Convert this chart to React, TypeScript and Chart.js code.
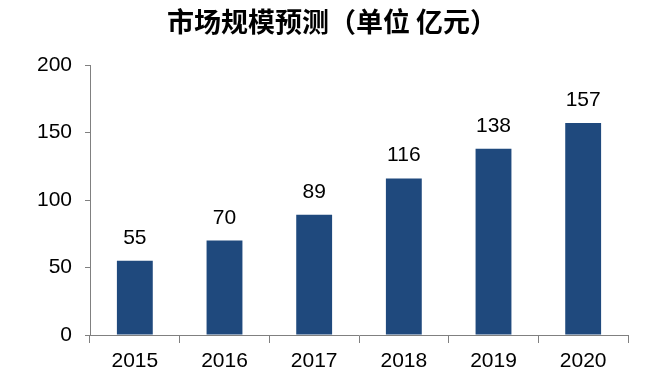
import React, { useEffect, useRef } from "react";
import { Chart, registerables } from "chart.js";

Chart.register(...registerables);

const TITLE = "市场规模预测（单位 亿元）";
const CATEGORIES = ["2015", "2016", "2017", "2018", "2019", "2020"];
const VALUES = [55, 70, 89, 116, 138, 157];
const Y_MIN = 0;
const Y_MAX = 200;
const Y_STEP = 50;

const BAR_COLOR = "#1F497D";
const AXIS_COLOR = "#808080";
const FONT = '"Liberation Sans", Arial, sans-serif';

const titlePlugin = {
  id: "customTitle",
  afterDraw(chart: any) {
    const ctx = chart.ctx;
    ctx.save();
    ctx.font = 'bold 27px "Noto Sans CJK SC", sans-serif';
    ctx.fillStyle = "#000000";
    ctx.textAlign = "center";
    ctx.textBaseline = "middle";
    ctx.fillText(TITLE, 332, 22);
    ctx.restore();
  },
};

const labelPlugin = {
  id: "barLabels",
  afterDatasetsDraw(chart: any) {
    const ctx = chart.ctx;
    ctx.save();
    ctx.font = `21px ${FONT}`;
    ctx.fillStyle = "#000000";
    ctx.textAlign = "center";
    ctx.textBaseline = "alphabetic";
    chart.data.datasets.forEach((ds: any, i: number) => {
      const meta = chart.getDatasetMeta(i);
      meta.data.forEach((bar: any, j: number) => {
        ctx.fillText(String(ds.data[j]), bar.x, bar.y - 17);
      });
    });
    ctx.restore();
  },
};

export default function App() {
  const ref = useRef<HTMLCanvasElement | null>(null);
  useEffect(() => {
    if (!ref.current) return;
    const chart = new Chart(ref.current, {
      type: "bar",
      data: {
        labels: CATEGORIES,
        datasets: [
          {
            data: VALUES,
            backgroundColor: BAR_COLOR,
            borderWidth: 0,
            barPercentage: 0.4,
            categoryPercentage: 1,
          },
        ],
      },
      options: {
        responsive: false,
        animation: false,
        layout: { padding: { top: 65, right: 21, left: 0, bottom: 0 } },
        plugins: {
          legend: { display: false },
          title: { display: false },
          tooltip: { enabled: false },
        },
        scales: {
          x: {
            offset: true,
            grid: {
              offset: true,
              drawOnChartArea: false,
              drawTicks: true,
              tickLength: 8,
              color: AXIS_COLOR,
            },
            border: { color: AXIS_COLOR, width: 1 },
            ticks: {
              color: "#000000",
              font: { family: FONT, size: 21 },
              padding: 6,
              maxRotation: 0,
            },
            afterFit(scale: any) {
              scale.height = 49;
            },
          },
          y: {
            min: Y_MIN,
            max: Y_MAX,
            grid: {
              drawOnChartArea: false,
              drawTicks: true,
              tickLength: 5,
              color: AXIS_COLOR,
            },
            border: { color: AXIS_COLOR, width: 1 },
            ticks: {
              stepSize: Y_STEP,
              color: "#000000",
              font: { family: FONT, size: 21 },
              padding: 13,
            },
            afterFit(scale: any) {
              scale.width = 90;
            },
          },
        },
      },
      plugins: [titlePlugin, labelPlugin],
    });
    return () => chart.destroy();
  }, []);

  return (
    <div style={{ position: "absolute", left: 0, top: 0, width: 649, height: 384, background: "#ffffff" }}>
      <canvas ref={ref} width={649} height={384} style={{ display: "block" }} />
    </div>
  );
}
